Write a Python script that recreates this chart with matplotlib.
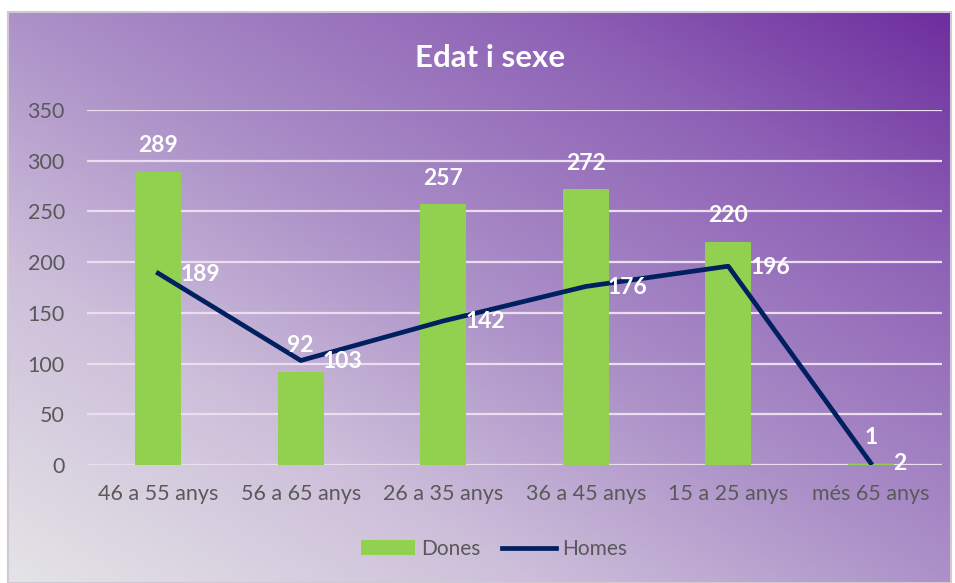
import numpy as np
import matplotlib
matplotlib.use("Agg")
import matplotlib.pyplot as plt
from matplotlib.colors import LinearSegmentedColormap
from matplotlib.patches import Rectangle

categories = ["46 a 55 anys", "56 a 65 anys", "26 a 35 anys", "36 a 45 anys", "15 a 25 anys", "més 65 anys"]
dones = [289, 92, 257, 272, 220, 1]
homes = [189, 103, 142, 176, 196, 2]
yticks = [0, 50, 100, 150, 200, 250, 300, 350]
title = "Edat i sexe"

plt.rcParams['font.family'] = ['Lato', 'DejaVu Sans']

W, H = 955, 583
fig = plt.figure(figsize=(W / 100, H / 100), dpi=100)
fig.patch.set_facecolor("white")

# background gradient panel
bx0, bx1 = 8 / W, 951 / W
by0, by1 = 0.0, (H - 12) / H
bg = fig.add_axes([bx0, by0, bx1 - bx0, by1 - by0])
bg.set_axis_off()
nx, ny = 400, 250
u = np.linspace(0, 1, nx)[None, :]
v = np.linspace(1, 0, ny)[:, None]
t = 0.5 * (u + v)
cmap = LinearSegmentedColormap.from_list(
    "bg",
    [(0.0, (228 / 255, 228 / 255, 230 / 255)),
     (0.28, (205 / 255, 190 / 255, 218 / 255)),
     (0.5, (172 / 255, 145 / 255, 200 / 255)),
     (0.78, (142 / 255, 98 / 255, 182 / 255)),
     (1.0, (110 / 255, 46 / 255, 158 / 255))])
bg.imshow(t, cmap=cmap, aspect="auto", extent=[0, 1, 0, 1], vmin=0, vmax=1)
bg.set_xlim(0, 1)
bg.set_ylim(0, 1)
fig.patches.append(Rectangle((bx0, by0), bx1 - bx0, by1 - by0, transform=fig.transFigure,
                             fill=False, edgecolor="#d0c8d4", linewidth=1.5, zorder=5))

# main axes
ax = fig.add_axes([87 / W, 1 - 465 / H, (942 - 87) / W, (465 - 110) / H])
ax.patch.set_alpha(0)
x = np.arange(len(categories))
bars = ax.bar(x, dones, width=0.32, color="#92D050", zorder=2, label="Dones")
line, = ax.plot(x, homes, color="#002060", lw=3.4, zorder=3, label="Homes", solid_joinstyle="round")

ax.set_xlim(-0.5, len(categories) - 0.5)
ax.set_ylim(0, 350)
ax.set_yticks(yticks)
ax.set_xticks(x)
ax.set_xticklabels(categories)
for yv in yticks:
    ax.axhline(yv, color="#ebdeef", lw=1.6, zorder=1)
for s in ax.spines.values():
    s.set_visible(False)
ax.tick_params(axis="both", length=0, colors="#595959", labelsize=15.5)
ax.tick_params(axis="y", pad=16)
ax.tick_params(axis="x", pad=14)

for xi, val in zip(x, dones):
    ax.annotate(str(val), (xi, val), xytext=(0, 26), textcoords="offset pixels",
                ha="center", va="center", color="white", fontsize=16.5, fontweight="bold", zorder=4)
for xi, val in zip(x, homes):
    ax.annotate(str(val), (xi, val), xytext=(22, -1), textcoords="offset pixels",
                ha="left", va="center", color="white", fontsize=16.5, fontweight="bold", zorder=4)

fig.text(490 / W, 1 - 58 / H, title, ha="center", va="center", color="white",
         fontsize=22.5, fontweight="bold")

leg = fig.legend([bars, line], ["Dones", "Homes"], loc="center",
                 bbox_to_anchor=(494 / W, 1 - 549 / H), ncol=2, frameon=False,
                 fontsize=15, handlelength=2.6, handletextpad=0.3, columnspacing=1.0,
                 labelcolor="#595959")

fig.savefig("out.png", dpi=100, facecolor="white")
